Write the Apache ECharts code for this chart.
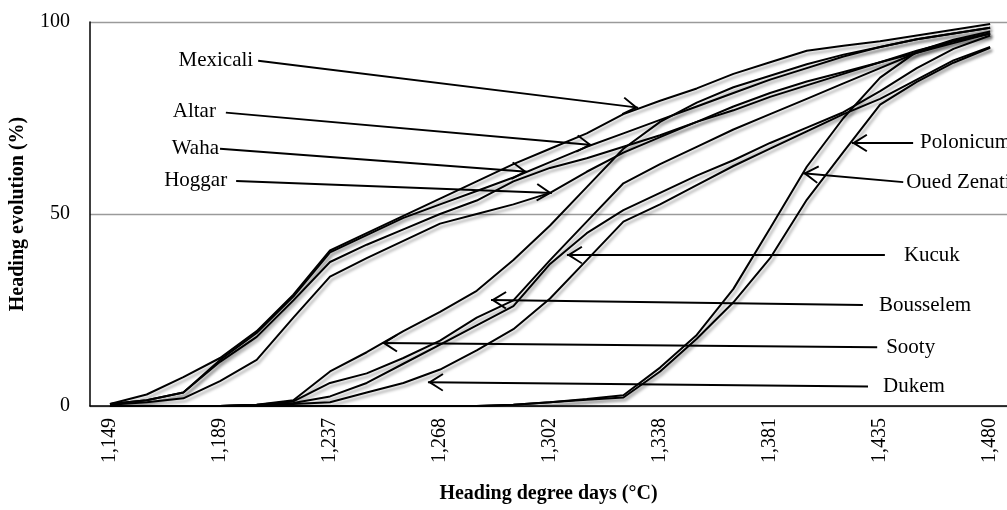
<!DOCTYPE html>
<html>
<head>
<meta charset="utf-8">
<script src="https://cdn.jsdelivr.net/npm/echarts@6/dist/echarts.min.js"></script>
<style>
  html, body { margin: 0; padding: 0; background: #fff; }
  #chart { width: 1007px; height: 510px; }
</style>
</head>
<body>
<div id="chart"></div>
<script>
// x tick labels, shown every 3rd sampling point (25 points in all)
var xLabels = ['1,149', '1,189', '1,237', '1,268', '1,302', '1,338', '1,381', '1,435', '1,480'];

var mexicali = [0.5, 3, 7.5, 12.5, 19.5, 29, 40.5, 45, 49.5, 54, 58.5, 63, 67, 71, 76, 79.5, 82.7, 86.5, 89.5, 92.5, 93.8, 95, 96.5, 98, 99.5];
var altar = [0.5, 1.5, 3.5, 12, 19, 28.5, 40, 44.5, 49, 52.5, 56, 59.5, 63.5, 67.5, 71, 74.5, 78, 81.5, 85, 88, 91, 93.5, 95.5, 97, 98.5];
var waha = [0.5, 1.5, 3.5, 11.5, 18, 27.5, 37.5, 42, 46, 50, 53.5, 58.5, 62, 64.5, 67.5, 70.5, 74, 77, 80.5, 83.5, 86.5, 89.5, 92.5, 95, 97];
var hoggar = [0.3, 1, 2, 6.5, 12, 23, 33.7, 38.5, 43, 47.5, 50, 52.5, 55.5, 61, 66, 70, 74, 78, 81.5, 84.5, 87, 89.5, 92, 94.5, 97];
var sooty = [0, 0, 0, 0, 0.3, 1.5, 9, 14, 19.5, 24.5, 30, 38, 47, 57, 67, 74, 79, 83, 86, 89, 91.5, 93.5, 95.5, 97, 98.5];
var bousselem = [0, 0, 0, 0, 0.3, 1.2, 6, 8.5, 12.5, 17, 23, 27.5, 38, 48, 58, 63, 67.5, 72, 76, 80, 84, 88, 92, 95, 97];
var kucuk = [0, 0, 0, 0, 0.2, 0.8, 2.5, 6, 11, 16, 21, 26, 37, 45, 51, 55.5, 60, 64, 68.5, 72.5, 76.5, 82, 88, 93, 96.5];
var dukem = [0, 0, 0, 0, 0.2, 0.5, 1, 3.5, 6, 9.5, 14.5, 20, 28, 38, 48, 52.5, 57.5, 62.5, 67, 71.5, 76, 80, 85, 90, 93.5];
var polonicum = [0, 0, 0, 0, 0, 0, 0, 0, 0, 0, 0, 0.3, 1, 1.6, 2.2, 9, 17.5, 27, 38.5, 53.7, 66.2, 78.5, 84.4, 89.4, 93.3];
var ouedZenati = [0, 0, 0, 0, 0, 0, 0, 0, 0, 0, 0, 0.3, 1, 1.8, 2.8, 10, 18.5, 30.5, 46.3, 62.3, 75, 85.5, 92.3, 95.4, 97.5];

// annotation arrows: [name, label end (x, y), arrow tip (x, y), text gap]
var notes = [
  ['Mexicali', 4.04, 89.9, 14.4, 77.7, 5],
  ['Altar', 3.16, 76.4, 13.14, 68.0, 10],
  ['Waha', 3.0, 67.0, 11.37, 61.0, 1],
  ['Hoggar', 3.44, 58.6, 12.05, 55.5, 9],
  ['Polonicum', 21.9, 68.5, 20.23, 68.5, 7],
  ['Oued Zenati', 21.63, 58.3, 18.9, 60.6, 3],
  ['Kucuk', 21.13, 39.3, 12.46, 39.3, 19],
  ['Bousselem', 20.53, 26.3, 10.39, 27.6, 16],
  ['Sooty', 20.92, 15.3, 7.42, 16.4, 9],
  ['Dukem', 20.67, 5.1, 8.67, 6.2, 15]
];

var seriesList = [
  ['Mexicali', mexicali], ['Altar', altar], ['Waha', waha], ['Hoggar', hoggar],
  ['Sooty', sooty], ['Bousselem', bousselem], ['Kucuk', kucuk], ['Dukem', dukem],
  ['Polonicum', polonicum], ['Oued Zenati', ouedZenati]
];

var font = '"Liberation Serif", "Times New Roman", serif';
// open arrow head, tip at the middle of the box so it sits on the end point
var chevron = 'path://M10,17 L20,33 L18.4,34.2 L10,21.2 L1.6,34.2 L0,33 Z M9.95,0 L10.05,0 L10,0.05 Z';

var chart = echarts.init(document.getElementById('chart'));

var series = seriesList.map(function (s) {
  return {
    name: s[0],
    type: 'line',
    showSymbol: false,
    symbol: 'none',
    silent: true,
    data: s[1].map(function (v, i) { return [i, v]; }),
    lineStyle: {
      color: '#000',
      width: 2,
      shadowColor: 'rgba(0,0,0,0.35)',
      shadowBlur: 3,
      shadowOffsetX: 2,
      shadowOffsetY: 3
    }
  };
});

series.push({
  name: 'notes',
  type: 'line',
  data: [],
  silent: true,
  markLine: {
    silent: true,
    animation: false,
    symbol: ['none', chevron],
    symbolSize: [18, 31],
    lineStyle: { color: '#000', width: 2, type: 'solid' },
    label: {
      show: true,
      position: 'start',
      color: '#000',
      fontFamily: font,
      fontSize: 21,
      formatter: function (p) { return p.name; }
    },
    data: notes.map(function (n) {
      return [
        { name: n[0], coord: [n[1], n[2]], label: { distance: n[5] } },
        { coord: [n[3], n[4]] }
      ];
    })
  }
});

var option = {
  backgroundColor: '#fff',
  animation: false,
  grid: { left: 90, right: 0, top: 22, bottom: 104 },
  xAxis: {
    type: 'value',
    min: -0.545,
    max: 24.46,
    name: 'Heading degree days (°C)',
    nameLocation: 'middle',
    nameGap: 78,
    nameTextStyle: { fontFamily: font, fontSize: 20, fontWeight: 'bold', color: '#000' },
    axisLine: { show: true, onZero: false, lineStyle: { color: '#000', width: 1.5 } },
    axisTick: { show: false },
    splitLine: { show: false },
    axisLabel: {
      customValues: [0, 3, 6, 9, 12, 15, 18, 21, 24],
      rotate: 90,
      margin: 12,
      fontFamily: font,
      fontSize: 20,
      color: '#000',
      formatter: function (v) { return xLabels[Math.round(v / 3)]; }
    }
  },
  yAxis: {
    type: 'value',
    min: 0,
    max: 100,
    interval: 50,
    name: 'Heading evolution (%)',
    nameLocation: 'middle',
    nameGap: 62,
    nameTextStyle: { fontFamily: font, fontSize: 20, fontWeight: 'bold', color: '#000' },
    axisLine: { show: true, onZero: false, lineStyle: { color: '#000', width: 1.5 } },
    axisTick: { show: false },
    splitLine: { show: true, lineStyle: { color: '#9a9a9a', width: 1.3 } },
    axisLabel: { margin: 20, fontFamily: font, fontSize: 20, color: '#000' }
  },
  series: series
};

chart.setOption(option);
</script>
</body>
</html>
